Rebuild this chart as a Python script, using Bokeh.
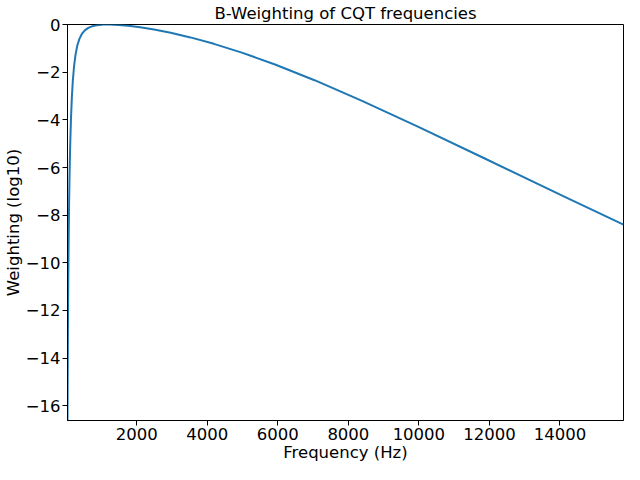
from bokeh.plotting import figure
from bokeh.models import Range1d, FixedTicker, CustomJSTickFormatter
from bokeh.embed import file_html
from bokeh.resources import INLINE

# CQT bin frequencies (Hz), every 3rd semitone from C1 up to the last bin
freqs = [32.703, 38.891, 46.249, 55.000, 65.406, 77.782, 92.499, 110.000,
         130.813, 155.563, 184.997, 220.000, 261.626, 311.127, 369.994, 440.000,
         523.251, 622.254, 739.989, 880.000, 1046.502, 1244.508, 1479.978, 1760.000,
         2093.005, 2489.016, 2959.955, 3520.000, 4186.009, 4978.032, 5919.911, 7040.000,
         8372.018, 9956.063, 11839.822, 14080.000, 15804.266]
# B-weighting values (dB)
weights = [-16.621, -14.435, -12.455, -10.657, -9.022, -7.539, -6.200, -5.009,
           -3.966, -3.073, -2.328, -1.725, -1.246, -0.876, -0.597, -0.390,
           -0.241, -0.135, -0.063, -0.019, 0.004, 0.008, -0.008, -0.045,
           -0.108, -0.203, -0.340, -0.534, -0.804, -1.173, -1.671, -2.331,
           -3.186, -4.268, -5.599, -7.190, -8.392]

x_ticks = [2000, 4000, 6000, 8000, 10000, 12000, 14000]
y_ticks = [0, -2, -4, -6, -8, -10, -12, -14, -16]

FONT = "DejaVu Sans"
FS = "16.5px"

p = figure(width=624, height=464, output_backend="svg", toolbar_location=None,
           title="B-Weighting of CQT frequencies",
           x_range=Range1d(min(freqs), max(freqs)),
           y_range=Range1d(min(weights), max(weights)),
           min_border_left=58, min_border_right=1, min_border_bottom=0, min_border_top=2)

p.line(freqs, weights, line_color="#1f77b4", line_width=2)

p.title.align = "center"
p.title.text_font = FONT
p.title.text_font_size = FS
p.title.text_font_style = "normal"
p.title.text_color = "black"
p.title.standoff = 3

p.xgrid.visible = False
p.ygrid.visible = False
p.outline_line_color = "black"
p.outline_line_alpha = 1
p.outline_line_width = 1
p.background_fill_color = "white"
p.border_fill_color = "white"

p.xaxis.ticker = FixedTicker(ticks=x_ticks)
p.yaxis.ticker = FixedTicker(ticks=y_ticks)
fmt = CustomJSTickFormatter(code="return (tick < 0 ? '\u2212' : '') + Math.abs(tick);")
p.yaxis.formatter = fmt
p.xaxis.formatter = fmt

p.xaxis.axis_label = "Frequency (Hz)"
p.yaxis.axis_label = "Weighting (log10)"

for ax in (p.xaxis, p.yaxis):
    ax.axis_line_color = "black"
    ax.major_tick_line_color = "black"
    ax.major_tick_out = 5
    ax.major_tick_in = 0
    ax.minor_tick_out = 0
    ax.minor_tick_in = 0
    ax.minor_tick_line_color = None
    ax.major_label_text_font = FONT
    ax.major_label_text_font_size = FS
    ax.major_label_text_color = "black"
    ax.axis_label_text_font = FONT
    ax.axis_label_text_font_size = FS
    ax.axis_label_text_font_style = "normal"
    ax.axis_label_text_color = "black"
    ax.major_label_standoff = 2
    ax.axis_label_standoff = 0

open("out.html", "w").write(file_html(p, INLINE))
